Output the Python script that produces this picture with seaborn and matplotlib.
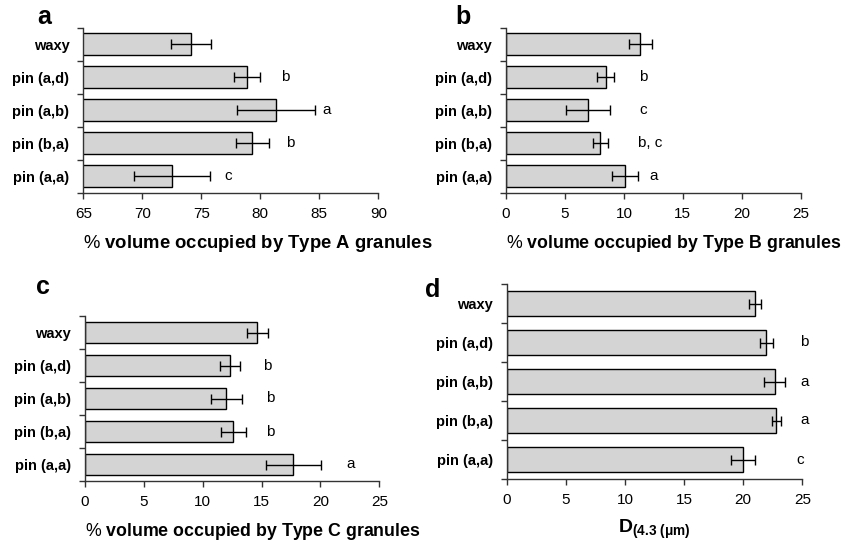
import matplotlib
matplotlib.use("Agg")
import matplotlib.pyplot as plt
import seaborn as sns
import pandas as pd
from matplotlib.ticker import FixedLocator

sns.set_style("ticks")
plt.rcParams['font.family'] = ['Liberation Sans', 'DejaVu Sans']
plt.rcParams['mathtext.fontset'] = 'custom'
plt.rcParams['mathtext.rm'] = 'Liberation Sans'
plt.rcParams['mathtext.bf'] = 'Liberation Sans:bold'
plt.rcParams['mathtext.it'] = 'Liberation Sans:italic'
for k in ['text.color', 'axes.labelcolor', 'xtick.color', 'ytick.color']:
    plt.rcParams[k] = 'black'

categories = ["waxy", "pin (a,d)", "pin (a,b)", "pin (b,a)", "pin (a,a)"]

type_a_mean = [74.1, 78.9, 81.3, 79.3, 72.5]
type_a_sd = [1.7, 1.1, 3.3, 1.4, 3.2]
type_a_letters = ["", "b", "a", "b", "c"]
type_a_letter_x = [0, 82.1, 85.6, 82.5, 77.3]

type_b_mean = [11.4, 8.45, 6.95, 8.0, 10.1]
type_b_sd = [1.0, 0.73, 1.9, 0.65, 1.1]
type_b_letters = ["", "b", "c", "b, c", "a"]
type_b_letter_x = [0, 11.6, 11.6, 12.2, 12.5]

type_c_mean = [14.65, 12.3, 12.0, 12.6, 17.7]
type_c_sd = [0.9, 0.85, 1.3, 1.05, 2.35]
type_c_letters = ["", "b", "b", "b", "a"]
type_c_letter_x = [0, 15.5, 15.7, 15.7, 22.6]

d43_mean = [21.0, 21.95, 22.65, 22.8, 20.0]
d43_sd = [0.5, 0.55, 0.85, 0.4, 1.0]
d43_letters = ["", "b", "a", "a", "c"]
d43_letter_x = [0, 25.2, 25.2, 25.2, 24.8]

W, H = 857, 541
fig = plt.figure(figsize=(W / 100, H / 100), dpi=100)

def rect(l, r, t, b):
    return [l / W, 1 - b / H, (r - l) / W, (b - t) / H]

def vol_label(t):
    return r"$\mathrm{\%}\ \mathbf{volume\ occupied\ by\ Type\ " + t + r"\ granules}$"

panels = [
    ("a", rect(83.3, 378.3, 27.7, 192.7), type_a_mean, type_a_sd, type_a_letters, type_a_letter_x,
     (65, 90), [65, 70, 75, 80, 85, 90], vol_label("A"), (44, 17), 13.3),
    ("b", rect(506, 800.7, 27.7, 192.7), type_b_mean, type_b_sd, type_b_letters, type_b_letter_x,
     (0, 25), [0, 5, 10, 15, 20, 25], vol_label("B"), (463, 17), 12.8),
    ("c", rect(85, 379.3, 316, 481), type_c_mean, type_c_sd, type_c_letters, type_c_letter_x,
     (0, 25), [0, 5, 10, 15, 20, 25], vol_label("C"), (43, 287), 12.8),
    ("d", rect(506.7, 802.3, 284, 479), d43_mean, d43_sd, d43_letters, d43_letter_x,
     (0, 25), [0, 5, 10, 15, 20, 25], r"$\mathbf{D}_{\mathbf{(4.3\ (\mu m)}}$", (433, 290), 14),
]

for tag, pos, mean, sd, letters, lx, xlim, xticks, xlabel, tagpos, lfs in panels:
    ax = fig.add_axes(pos)
    df = pd.DataFrame({"cat": categories, "val": mean})
    sns.barplot(data=df, x="val", y="cat", orient="h", ax=ax, color="#d4d4d4",
                saturation=1, edgecolor="black", linewidth=1.0, width=0.66)
    ax.errorbar(mean, range(len(categories)), xerr=sd, fmt="none", ecolor="black",
                elinewidth=1.0, capsize=3.5, capthick=1.0)
    for i, (t, x) in enumerate(zip(letters, lx)):
        if t:
            ax.text(x, i, t, ha="center", va="center", fontsize=11)
    ax.set_xlim(*xlim)
    ax.set_ylim(len(categories) - 0.5, -0.5)
    ax.set_xticks(xticks)
    ax.set_xticklabels([str(v) for v in xticks], fontsize=11)
    ax.set_yticks(range(len(categories)))
    ax.set_yticklabels(categories, fontsize=10.5, fontweight="bold")
    ax.yaxis.set_minor_locator(FixedLocator([i - 0.5 for i in range(len(categories) + 1)]))
    ax.tick_params(axis="y", which="major", length=0, pad=10)
    ax.tick_params(axis="y", which="minor", length=4, width=1, color="#333333")
    ax.tick_params(axis="x", which="major", length=4, width=1, color="#333333", pad=6)
    ax.set_ylabel("")
    if tag == "d":
        ax.set_xlabel(xlabel, fontsize=lfs, labelpad=8)
    else:
        ax.set_xlabel(xlabel, fontsize=lfs, labelpad=9, loc="left")
    for s in ["top", "right"]:
        ax.spines[s].set_visible(False)
    for s in ["left", "bottom"]:
        ax.spines[s].set_color("#333333")
        ax.spines[s].set_linewidth(1)
    fig.text(tagpos[0] / W, 1 - tagpos[1] / H, tag, fontsize=18, fontweight="bold",
             ha="center", va="center")

fig.savefig("out.png", dpi=100)
